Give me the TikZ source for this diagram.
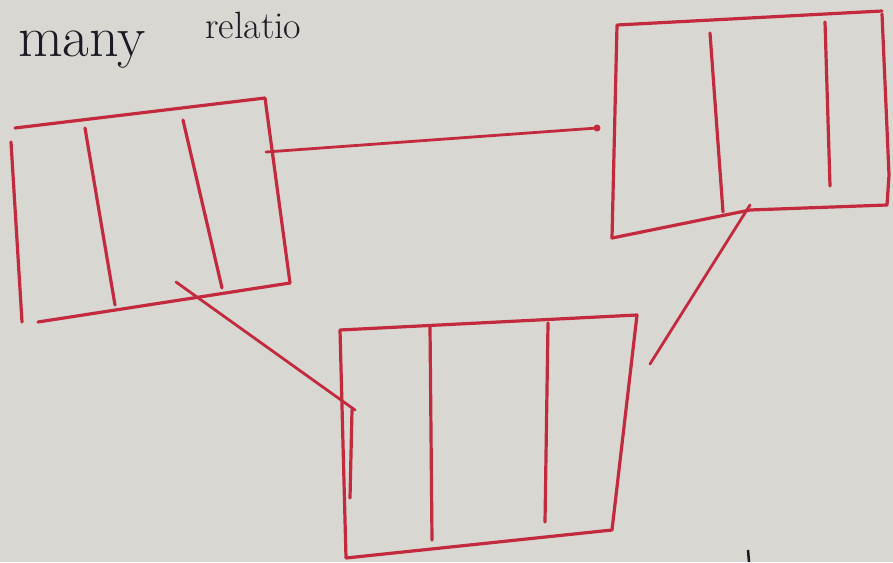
\documentclass[tikz,border=0pt]{standalone}
\usepackage{xcolor}
\usetikzlibrary{calc}
\definecolor{paper}{HTML}{D8D7D2}
\definecolor{pen}{HTML}{C42A3E}
\definecolor{ink}{HTML}{1C1A22}
\tikzset{
  stroke/.style={draw=pen, line width=3.2pt, line cap=round, line join=round},
  link/.style={stroke, line width=2.8pt},
  scrawl/.style={text=ink, font=\fontsize{58}{58}\selectfont, inner sep=0pt, anchor=base west}}

\begin{document}
\begin{tikzpicture}[x=1pt, y=-1pt]
\fill[paper] (0,0) rectangle (893,562);
\useasboundingbox (0,0) rectangle (893,562);
\node[scrawl] (word1) at (18,56) {many};
\node[scrawl, font=\fontsize{38}{38}\selectfont] (word2) at (205,38) {relatio};
% left table
\coordinate (a1) at (15,128);  \coordinate (a2) at (265,98);
\coordinate (a3) at (290,283); \coordinate (a4) at (38,322);
\draw[stroke] (a1) -- (a2) -- (a3);
\draw[stroke] (a4) -- (a3);
\draw[stroke] (11,142) -- (22,322);
\draw[stroke] (85,128) -- (115,305);
\draw[stroke] (183,120) -- (222,288);
\coordinate (aR) at (266,152);
\coordinate (aB) at (176,282);
% right table
\coordinate (b1) at (617,25);  \coordinate (b2) at (882,11);
\coordinate (b3) at (887,205); \coordinate (b4) at (612,238);
\draw[stroke] (b4) -- (b1) -- (b2);
\draw[stroke] (882,14) -- (889,175) -- (887,205);
\draw[stroke] (b4) -- (750,210) -- (b3);
\draw[stroke] (710,33) -- (723,212);
\draw[stroke] (825,22) -- (830,186);
\coordinate (bL) at (597,128);
\coordinate (bB) at (750,205);
% bottom table
\coordinate (c1) at (340,330); \coordinate (c2) at (637,315);
\coordinate (c3) at (612,530); \coordinate (c4) at (346,558);
\draw[stroke] (c4) -- (c1) -- (c2) -- (c3) -- (c4);
\draw[stroke] (352,410) -- (350,498);
\draw[stroke] (430,326) -- (432,540);
\draw[stroke] (548,323) -- (545,522);
\coordinate (cL) at (355,410);
\coordinate (cR) at (650,364);
% links
\draw[link] (aR) -- (bL);
\fill[pen] (bL) circle (3.5pt);
\draw[link] (aB) -- (cL);
\draw[link] (bB) -- (cR);
\draw[draw=ink, line width=2.5pt] (748,550) -- (749,562);
\end{tikzpicture}
\end{document}
